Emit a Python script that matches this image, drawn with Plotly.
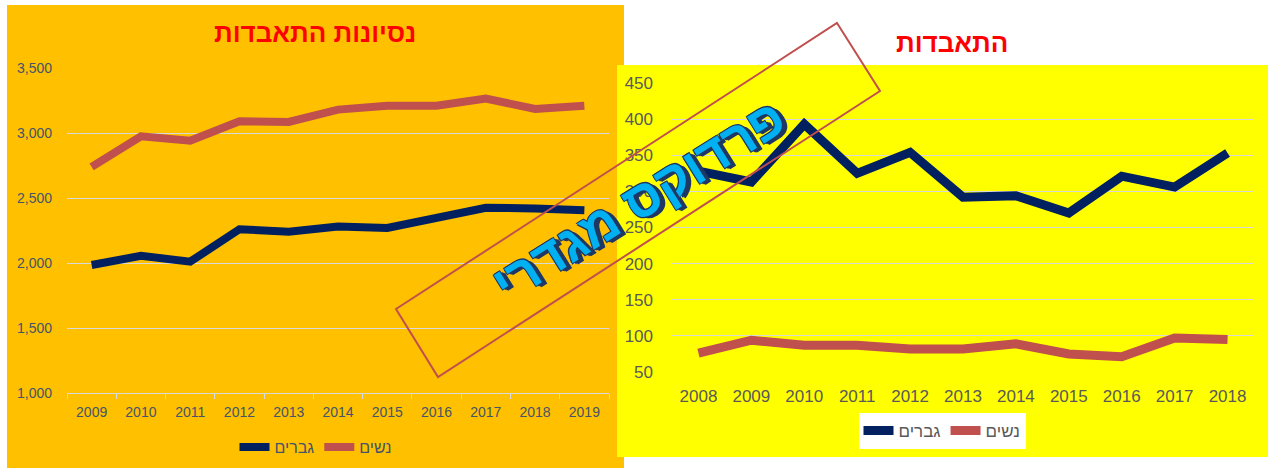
import plotly.graph_objects as go

# ---------------- data ----------------
left_years = ["2009", "2010", "2011", "2012", "2013", "2014", "2015", "2016", "2017", "2018", "2019"]
left_men = [1985, 2055, 2010, 2260, 2240, 2280, 2270, 2340, 2425, 2420, 2405]
left_women = [2740, 2975, 2940, 3090, 3085, 3180, 3210, 3210, 3265, 3185, 3210]

right_years = ["2008", "2009", "2010", "2011", "2012", "2013", "2014", "2015", "2016", "2017", "2018"]
right_men = [328, 313, 393, 325, 354, 292, 294, 270, 321, 306, 353]
right_women = [76, 94, 87, 87, 82, 82, 89, 75, 71, 97, 95]

left_title = "נסיונות התאבדות"
right_title = "התאבדות"
men_label = "גברים"
women_label = "נשים"
stamp_text = "פרדוקס מגדרי"

W, H = 1272, 468
NAVY = "#002060"
RED = "#C0504D"
FONT = "Liberation Sans, DejaVu Sans, Arial, sans-serif"


def px(x):
    return x / W


def py(y):
    return 1 - y / H


fig = go.Figure()

fig.add_trace(go.Scatter(x=left_years, y=left_men, name=men_label, mode="lines",
                         line=dict(color=NAVY, width=8), xaxis="x", yaxis="y", legend="legend"))
fig.add_trace(go.Scatter(x=left_years, y=left_women, name=women_label, mode="lines",
                         line=dict(color=RED, width=8), xaxis="x", yaxis="y", legend="legend"))
fig.add_trace(go.Scatter(x=right_years, y=right_men, name=men_label, mode="lines",
                         line=dict(color=NAVY, width=9), xaxis="x2", yaxis="y2", legend="legend2"))
fig.add_trace(go.Scatter(x=right_years, y=right_women, name=women_label, mode="lines",
                         line=dict(color=RED, width=9), xaxis="x2", yaxis="y2", legend="legend2"))

LEFT_TXT = "#44546A"
RIGHT_TXT = "#595959"
GRID = "#D9D9D9"

fig.update_layout(
    width=W, height=H,
    margin=dict(l=0, r=0, t=0, b=0, pad=0, autoexpand=False),
    paper_bgcolor="white",
    plot_bgcolor="rgba(0,0,0,0)",
    font=dict(family=FONT),
    xaxis=dict(domain=[px(67), px(609)], anchor="y", type="category", automargin=False,
               range=[-0.5, len(left_years) - 0.5],
               showgrid=False, showline=True, linecolor=GRID, linewidth=1,
               ticks="outside", tickson="boundaries", ticklen=5, tickcolor=GRID,
               tickfont=dict(size=14, color=LEFT_TXT), ticklabelstandoff=6,
               fixedrange=True),
    yaxis=dict(domain=[py(393), py(68)], anchor="x", range=[1000, 3500], automargin=False,
               tickvals=[1000, 1500, 2000, 2500, 3000, 3500], tickformat=",d",
               showgrid=True, gridcolor=GRID, gridwidth=1, zeroline=False,
               showline=False, ticks="", tickfont=dict(size=14, color=LEFT_TXT),
               ticklabelstandoff=14),
    xaxis2=dict(domain=[px(672), px(1254)], anchor="y2", type="category", automargin=False,
                range=[-0.5, len(right_years) - 0.5],
                showgrid=False, showline=False, ticks="",
                tickfont=dict(size=17, color=RIGHT_TXT), ticklabelstandoff=12),
    yaxis2=dict(domain=[py(372), py(83)], anchor="x2", range=[50, 450], automargin=False,
                tickvals=[50, 100, 150, 200, 250, 300, 350, 400, 450],
                showgrid=True, gridcolor=GRID, gridwidth=1, zeroline=False,
                showline=False, ticks="", tickfont=dict(size=17, color=RIGHT_TXT),
                ticklabelstandoff=18),
    legend=dict(orientation="h", x=px(316), y=py(447), xanchor="center", yanchor="middle",
                bgcolor="rgba(0,0,0,0)", font=dict(size=16, color=LEFT_TXT),
                itemwidth=30, tracegroupgap=0),
    legend2=dict(orientation="h", x=px(942), y=py(431), xanchor="center", yanchor="middle",
                 bgcolor="white", font=dict(size=17, color=RIGHT_TXT),
                 itemwidth=30, tracegroupgap=0),
    showlegend=True,
)

shapes = [
    dict(type="rect", xref="paper", yref="paper", x0=px(7), x1=px(624), y0=py(468), y1=py(5),
         fillcolor="#FFC000", line=dict(width=0), layer="below"),
    dict(type="rect", xref="paper", yref="paper", x0=px(617), x1=px(1268), y0=py(457), y1=py(65),
         fillcolor="#FFFF00", line=dict(width=0), layer="below"),
    dict(type="path", xref="paper", yref="paper",
         path=(f"M {px(837)} {py(23)} L {px(880)} {py(91)} L {px(438)} {py(377)} "
               f"L {px(396)} {py(309)} Z"),
         line=dict(color="#C0504D", width=2), fillcolor="rgba(0,0,0,0)", layer="above"),
]
fig.update_layout(shapes=shapes)

annotations = [
    dict(text=f"<b>{left_title}</b>", xref="paper", yref="paper", x=px(315), y=py(33),
         xanchor="center", yanchor="middle",
         showarrow=False, font=dict(size=26, color="#FF0000", family=FONT)),
    dict(text=f"<b>{right_title}</b>", xref="paper", yref="paper", x=px(952), y=py(43),
         xanchor="center", yanchor="middle",
         showarrow=False, font=dict(size=26, color="#FF0000", family=FONT)),
    dict(text=f"<b>{stamp_text}</b>", xref="paper", yref="paper", x=px(638), y=py(201),
         xanchor="center", yanchor="middle",
         showarrow=False, textangle=-32,
         font=dict(size=52, color="#00B0F0", family=FONT,
                   shadow="2px 2px 0 #1F3864, -1px -1px 0 #1F3864, 1px -1px 0 #1F3864, "
                          "-1px 1px 0 #1F3864, 3px 3px 0 #1F3864, 4px 4px 0 #1F3864")),
]
fig.update_layout(annotations=annotations)

fig.write_html("out.html", config={"displayModeBar": False},
               post_script="document.body.style.margin='0';document.body.style.overflow='hidden';")
